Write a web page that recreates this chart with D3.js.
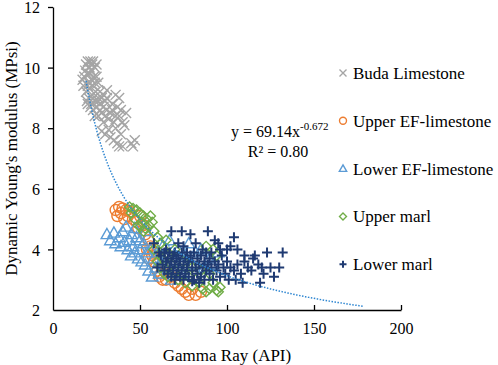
<!DOCTYPE html>
<html>
<head>
<meta charset="utf-8">
<script src="https://cdn.jsdelivr.net/npm/d3@7"></script>
<style>
  body { margin: 0; background: #fff; }
  text { font-family: "Liberation Serif", "Times New Roman", serif; fill: #000; }
</style>
</head>
<body>
<div class="chart"></div>
<script>
var width = 498, height = 365;

// series data: [gamma ray (API), dynamic Young's modulus (MPsi)]
var budaLimestone = [
  [17,9.6],[17.5,9.4],[18,9.7],[18.5,9.9],[19,10.1],[19.5,9.8],[20,10.2],[20.5,9.5],[21,10.0],[21.5,10.2],
  [22,9.9],[22.5,10.1],[23,10.2],[23.5,9.7],[24,10.0],[25,10.1],[19,9.2],[19.5,8.9],[20,9.4],[20.5,9.0],
  [21,9.3],[21.5,8.7],[22,9.6],[22.5,9.1],[23,9.4],[24,9.5],[24.5,9.2],[25,9.7],[26,9.5],[22,8.8],
  [23,8.6],[24,8.9],[25,8.7],[26,9.0],[27,8.8],[28,8.5],[27,9.2],[26,8.4],[28,9.0],[29,8.7],
  [30,8.4],[31,8.6],[29,8.2],[32,8.3],[31,9.0],[33,8.5],[34,8.6],[35,8.2],[34,8.8],[36,8.4],
  [37,8.7],[38,8.4],[39,8.6],[40,8.2],[42,8.5],[36,9.1],[31,9.25],[38,9.0],[28,7.9],[30,7.8],
  [32,7.95],[33,7.7],[35,7.6],[37,7.5],[38,7.4],[40,7.4],[45,7.5],[47,7.6],[46,7.4],[39,7.8],
  [41,8.1],[36,8.0],[20,8.8],[21,9.8],[23,9.0],[24,8.4],[26,8.9],[27,8.6],[29,9.1],[30,8.9]
];
var upperEFLimestone = [
  [36,5.3],[37,5.1],[38,5.4],[39,5.2],[40,5.35],[41,5.0],[42,5.3],[43,5.1],[44,5.25],[46,5.0],
  [48,4.9],[50,5.1],[52,4.8],[49,4.7],[53,4.5],[55,4.3],[54,4.0],[56,4.1],[57,3.8],[58,3.6],
  [55,3.7],[59,3.4],[60,3.3],[61,3.1],[62,3.2],[63,3.0],[58,3.9],[60,3.7],[64,3.5],[66,3.3],
  [68,3.1],[70,2.9],[72,2.8],[74,2.7],[76,2.6],[78,2.5],[82,2.5],[80,2.7],[65,3.0],[85,2.6]
];
var lowerEFLimestone = [
  [31,4.5],[33,4.3],[35,4.55],[36,4.2],[38,4.4],[39,4.1],[40,4.6],[41,4.25],[42,4.75],[43,4.0],
  [44,4.3],[45,3.8],[46,4.1],[47,3.9],[48,4.4],[49,3.7],[50,4.0],[51,3.6],[52,4.2],[53,3.5],
  [54,3.9],[55,3.3],[56,4.0],[57,3.1],[58,3.7],[59,3.4],[60,3.9],[61,3.2],[62,3.6],[63,4.1],
  [65,3.8],[66,3.4],[67,4.3],[68,3.0],[70,3.6],[72,4.0],[74,3.2],[76,3.8],[78,4.2],[80,3.5],
  [82,3.9],[85,4.0],[87,3.4],[90,3.7],[92,3.5],[95,3.9],[45,4.5],[47,4.7],[50,4.3],[53,4.6]
];
var upperMarl = [
  [44,5.4],[45,5.2],[46,5.35],[47,5.0],[48,5.3],[49,4.8],[50,5.2],[51,4.9],[52,5.1],[53,4.7],
  [54,5.0],[55,4.8],[56,5.1],[57,4.9],[58,4.6],[52,4.6],[50,4.75],[60,4.4],[62,4.2],[64,4.0],
  [65,4.3],[66,3.8],[63,3.7],[62,3.4],[64,3.2],[66,3.1],[68,3.5],[70,3.3],[72,3.0],[74,3.2],
  [76,2.9],[78,3.1],[80,2.8],[82,3.0],[84,2.9],[86,2.7],[88,2.6],[90,2.7],[92,2.9],[94,2.65],
  [95,2.6],[96,2.75],[90,3.2],[92,4.0],[94,3.8],[88,4.1],[70,4.0],[75,3.6],[80,3.4],[85,3.3],
  [60,3.6],[58,4.0]
];
var lowerMarl = [
  [62,3.8],[63,3.5],[64,3.9],[64,3.3],[65,3.6],[65,4.0],[66,3.2],[66,3.7],[67,3.4],[67,3.9],
  [68,3.6],[68,3.1],[69,3.8],[69,3.3],[70,3.5],[70,3.9],[70,3.0],[71,3.7],[71,3.2],[72,3.4],
  [72,3.8],[73,3.6],[73,3.1],[74,3.9],[74,3.3],[75,3.5],[75,3.0],[76,3.7],[76,3.2],[77,3.4],
  [77,3.9],[78,3.6],[78,3.1],[79,3.8],[80,3.3],[80,3.6],[81,3.0],[81,3.9],[82,3.4],[83,3.7],
  [83,3.2],[84,3.5],[85,3.8],[85,3.1],[86,3.4],[87,3.6],[87,3.0],[88,3.9],[88,3.3],[89,3.5],
  [90,3.2],[90,3.7],[91,3.4],[92,3.0],[93,3.6],[94,3.3],[95,3.5],[96,3.1],[97,3.8],[98,3.4],
  [99,3.2],[100,3.6],[101,3.0],[102,3.4],[104,3.3],[106,3.5],[108,3.2],[110,3.6],[112,3.4],[114,3.3],
  [116,3.8],[118,3.5],[120,3.4],[121,3.2],[123,3.9],[125,3.4],[127,3.1],[130,3.4],[132,3.9],[119,2.9],
  [109,2.9],[105,3.0],[100,4.0],[102,4.1],[104,4.4],[106,4.0],[110,3.8],[115,3.7],[95,4.2],[93,4.3],
  [89,4.6],[79,4.5],[74,4.6],[68,4.6],[58,4.2],[60,3.4],[61,3.9],[75,4.1],[82,4.2],[86,4.0],
  [91,3.9],[96,4.0],[84,2.9],[80,2.95],[72,4.2]
];

var seriesNames = ["Buda Limestone", "Upper EF-limestone", "Lower EF-limestone", "Upper marl", "Lower marl"];
var seriesData = [budaLimestone, upperEFLimestone, lowerEFLimestone, upperMarl, lowerMarl];
var seriesColors = ["#a5a5a5", "#ed7d31", "#5b9bd5", "#70ad47", "#1f3a72"];
var seriesShapes = ["cross", "circle", "triangle", "diamond", "plus"];
var markerSizes = [10, 11, 11, 10, 10];

// power trend line y = a * x^b, drawn between these gamma ray values
var trendA = 69.14, trendB = -0.672;
var trendRange = [19, 178];

var xTicks = [0, 50, 100, 150, 200];
var yTicks = [2, 4, 6, 8, 10, 12];

var margin = {left: 53, right: 97, top: 7, bottom: 55};

var svg = d3.select(".chart").append("svg")
    .attr("width", width)
    .attr("height", height);

var x = d3.scaleLinear().domain([0, 200]).range([margin.left, width - margin.right]);
var y = d3.scaleLinear().domain([2, 12]).range([height - margin.bottom, margin.top]);

// marker path generator, centred on 0,0
function markerPath(shape, s) {
    var h = s / 2;
    if (shape === "cross") return "M" + (-h) + "," + (-h) + "L" + h + "," + h + "M" + (-h) + "," + h + "L" + h + "," + (-h);
    if (shape === "plus") return "M" + (-h) + ",0L" + h + ",0M0," + (-h) + "L0," + h;
    if (shape === "circle") return "M" + h + ",0A" + h + "," + h + " 0 1,1 " + (-h) + ",0A" + h + "," + h + " 0 1,1 " + h + ",0Z";
    if (shape === "triangle") return "M0," + (-h * 1.05) + "L" + (h * 1.05) + "," + (h * 0.8) + "L" + (-h * 1.05) + "," + (h * 0.8) + "Z";
    if (shape === "diamond") return "M0," + (-h) + "L" + h + ",0L0," + h + "L" + (-h) + ",0Z";
}

// scatter points
seriesData.forEach(function(data, i) {
    svg.append("g")
        .selectAll("path")
        .data(data)
        .enter().append("path")
        .attr("transform", function(d) { return "translate(" + x(d[0]) + "," + y(d[1]) + ")"; })
        .attr("d", markerPath(seriesShapes[i], markerSizes[i]))
        .attr("fill", "none")
        .attr("stroke", seriesColors[i])
        .attr("stroke-width", seriesShapes[i] === "plus" ? 2 : 1.4);
});

// trend line
var trendData = d3.range(trendRange[0], trendRange[1] + 0.5, 1).map(function(g) { return [g, trendA * Math.pow(g, trendB)]; });
svg.append("path")
    .datum(trendData)
    .attr("fill", "none")
    .attr("stroke", "#2e86d1")
    .attr("stroke-width", 1.5)
    .attr("stroke-dasharray", "1.5,1.5")
    .attr("d", d3.line().x(function(d) { return x(d[0]); }).y(function(d) { return y(d[1]); }));

// axes
var xAxis = svg.append("g")
    .attr("transform", "translate(0," + y(2) + ")")
    .call(d3.axisBottom(x).tickValues(xTicks).tickSizeInner(-5).tickSizeOuter(0).tickPadding(13));
var yAxis = svg.append("g")
    .attr("transform", "translate(" + x(0) + ",0)")
    .call(d3.axisLeft(y).tickValues(yTicks).tickSizeInner(5).tickSizeOuter(0).tickPadding(8));

[xAxis, yAxis].forEach(function(a) {
    a.select(".domain").attr("stroke", "#000").attr("stroke-width", 1.3);
    a.selectAll(".tick line").attr("stroke", "#000").attr("stroke-width", 1.3);
    a.selectAll(".tick text").style("font-size", "16px").attr("fill", "#000");
});
yAxis.selectAll(".tick text").attr("dy", "0.36em");
xAxis.selectAll(".tick").filter(function(d) { return d === 0; }).select("line").remove();
yAxis.selectAll(".tick").filter(function(d) { return d === 2; }).select("line").remove();

// axis titles
svg.append("text")
    .attr("x", (x(0) + x(200)) / 2)
    .attr("y", 361)
    .attr("text-anchor", "middle")
    .style("font-size", "17px")
    .text("Gamma Ray (API)");

svg.append("text")
    .attr("transform", "translate(17," + (y(2) + y(12)) / 2 + ") rotate(-90)")
    .attr("text-anchor", "middle")
    .style("font-size", "17px")
    .text("Dynamic Young's modulus (MPsi)");

// trend equation
var eq = svg.append("text")
    .attr("x", 231)
    .attr("y", 137)
    .style("font-size", "16px");
eq.append("tspan").text("y = 69.14x");
eq.append("tspan").attr("dy", -7).style("font-size", "11px").text("-0.672");

svg.append("text")
    .attr("x", 278)
    .attr("y", 157)
    .attr("text-anchor", "middle")
    .style("font-size", "16px")
    .text("R² = 0.80");

// legend
var legend = svg.append("g");
var legendItems = legend.selectAll("g")
    .data(seriesNames)
    .enter().append("g")
    .attr("transform", function(d, i) { return "translate(343," + (73 + i * 47.8) + ")"; });

legendItems.append("path")
    .attr("d", function(d, i) { return markerPath(seriesShapes[i], 7); })
    .attr("fill", "none")
    .attr("stroke", function(d, i) { return seriesColors[i]; })
    .attr("stroke-width", function(d, i) { return seriesShapes[i] === "plus" ? 2 : 1.4; });

legendItems.append("text")
    .attr("x", 10)
    .attr("y", 6)
    .style("font-size", "17px")
    .text(function(d) { return d; });
</script>
</body>
</html>
